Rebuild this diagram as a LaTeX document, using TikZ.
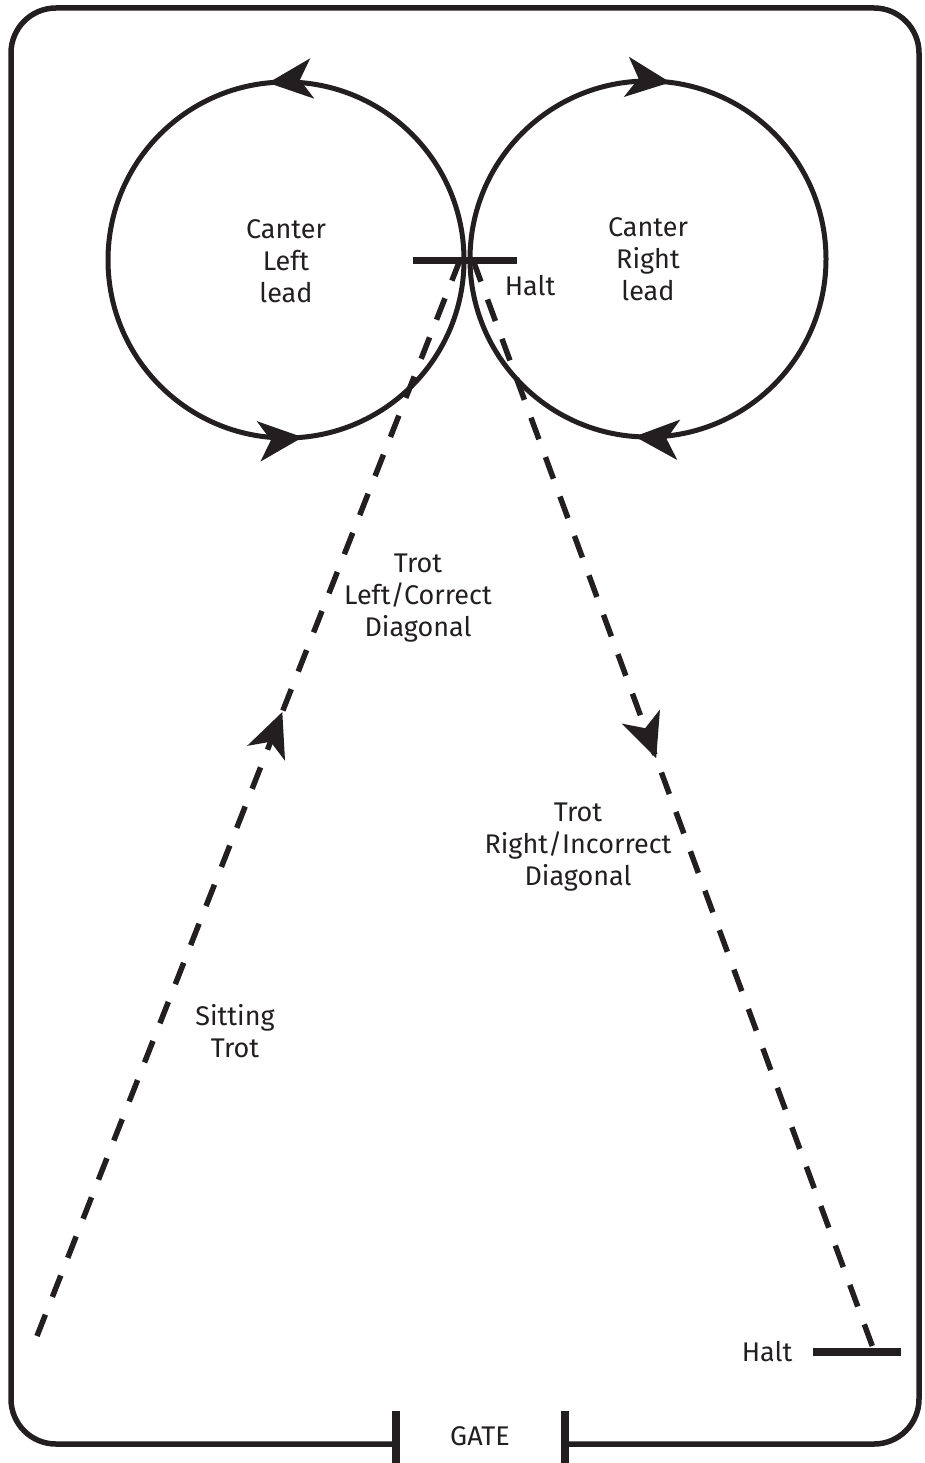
\documentclass[tikz,border=0pt]{standalone}
\usepackage{fontspec}
\setmainfont{Fira Sans}
\usetikzlibrary{arrows.meta,decorations.markings}
\definecolor{ink}{RGB}{35,31,32}
\tikzset{
  bigtip/.tip={Stealth[length=44pt,width=40pt,inset=12pt]},
  outline/.style={draw=ink, line width=5.5pt},
  ring/.style={draw=ink, line width=5pt},
  trail/.style={draw=ink, line width=5.5pt, dash pattern=on 23pt off 19pt},
  haltbar/.style={draw=ink, line width=7.5pt},
  gatebar/.style={draw=ink, line width=8.5pt},
  txt/.style={font=\fontsize{27}{32}\selectfont, text=ink, align=center, inner sep=0pt},
  twotips/.style 2 args={postaction={decorate}, decoration={markings,
      mark=at position #1 with {\arrow[ink]{bigtip}},
      mark=at position #2 with {\arrow[ink]{bigtip}}}},
  onetip/.style={postaction={decorate}, decoration={markings,
      mark=at position #1 with {\arrow[ink]{bigtip}}}}
}
\begin{document}
\begin{tikzpicture}[x=1pt,y=-1pt]
  \useasboundingbox (0,0) rectangle (924,1463);

  % arena fence with the gate opening
  \coordinate (gateL) at (396,1444);
  \coordinate (gateR) at (565,1444);
  \draw[outline, rounded corners=45pt]
    (gateL) -- (11,1444) -- (11,8) -- (919,8) -- (919,1444) -- (gateR);
  \draw[gatebar] (396,1411) -- (396,1463);
  \draw[gatebar] (565,1411) -- (565,1463);

  % canter circles
  \coordinate (cL) at (286,260);
  \coordinate (cR) at (648,259);
  \draw[ring, twotips={0.266}{0.765}]
    (cL) ++(0:178) arc[start angle=0, end angle=-360, radius=178];
  \draw[ring, twotips={0.270}{0.762}]
    (cR) ++(180:178) arc[start angle=180, end angle=540, radius=178];

  % trot diagonals
  \coordinate (start) at (37,1336);
  \coordinate (haltA) at (460,260);
  \coordinate (haltB) at (473,260);
  \coordinate (finish) at (873,1348);
  \draw[trail, onetip=0.58] (start) -- (haltA);
  \draw[trail, onetip=0.458] (haltB) -- (finish);

  % halt marks
  \coordinate (h1a) at (413,260.5);
  \coordinate (h1b) at (517,260.5);
  \draw[haltbar] (h1a) -- (h1b);
  \coordinate (h2a) at (813,1352);
  \coordinate (h2b) at (901,1352);
  \draw[haltbar] (h2a) -- (h2b);

  % labels
  \node[txt] (canterL) at (286,261) {Canter\\Left\\lead};
  \node[txt] (canterR) at (648,259) {Canter\\Right\\lead};
  \node[txt] (haltTop) at (530,286) {Halt};
  \node[txt] (trotL) at (418,598) {Trot\\Left/Correct\\Diagonal};
  \node[txt] (trotR) at (578,847) {Trot\\Right/Incorrect\\Diagonal};
  \node[txt] (sitting) at (235,1031) {Sitting\\Trot};
  \node[txt] (haltEnd) at (767,1352) {Halt};
  \node[txt] (gate) at (480,1436) {GATE};
\end{tikzpicture}
\end{document}
